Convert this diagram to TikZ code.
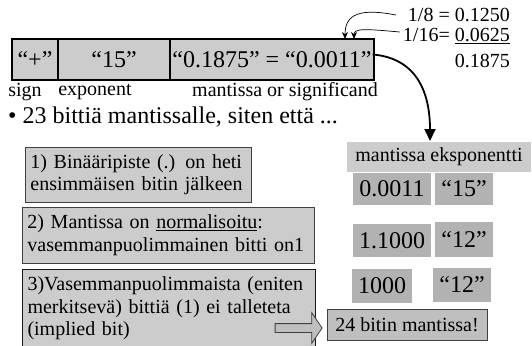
\documentclass[tikz,border=0pt]{standalone}
\usepackage{fontspec}
\setmainfont{Liberation Serif}
\usetikzlibrary{arrows.meta,calc,shapes.arrows}

\begin{document}
\begin{tikzpicture}[x=1pt,y=1pt,yscale=-1,xscale=1,
  field/.style={draw=black,line width=1.2pt,fill=black!20,minimum height=41,inner sep=0,font=\fontsize{24}{28}\selectfont},
  numbox/.style={draw=black!75,line width=0.8pt,fill=black!20,anchor=north west,align=left,inner xsep=5,font=\fontsize{20}{22.5}\selectfont},
  valbox/.style={fill=black!30,inner sep=0,font=\fontsize{24}{28}\selectfont},
  lbl/.style={inner sep=0,font=\fontsize{20}{24}\selectfont},
  hollowarrow/.style={single arrow,draw=black!75,line width=0.8pt,fill=black!25,inner sep=4,minimum height=47,single arrow head extend=11,single arrow tip angle=112}]
\useasboundingbox (0,0) rectangle (532,345);

%Fields of the number
\node[field,minimum width=46] (sign) at (35,59.5) {“+”};
\node[field,minimum width=112] (expo) at (114,59.5) {“15”};
\node[field,minimum width=204] (mant) at (272,59.5) {“0.1875” = “0.0011”};
\node[lbl] (signlbl) at (25,92) {sign};
\node[lbl] (expolbl) at (95,92) {exponent};
\node[lbl] (mantlbl) at (285,92) {mantissa or significand};

%Sum of the fractions
\node[lbl,anchor=east] (frac1) at (510,15) {1/8 = 0.1250};
\node[lbl,anchor=east] (frac2) at (510,36) {1/16= \underline{0.0625}};
\node[lbl,anchor=east] (sum) at (510,61) {0.1875};
\coordinate (bit3) at (345,39);
\coordinate (bit4) at (354,39);
\draw[line width=0.7pt,-{Stealth[length=7,width=6]}] ($(frac1.west)+(-12,0)$) .. controls (360,8) and (345,14) .. (bit3);
\draw[line width=0.7pt,-{Stealth[length=7,width=6]}] ($(frac2.west)+(-3,-4)$) .. controls (366,29) and (354,28) .. (bit4);

\node[lbl,anchor=west,font=\fontsize{24}{28}\selectfont] (bullet) at (8,117) {• 23 bittiä mantissalle, siten että ...};

%Steps
\node[numbox,text width=216,minimum height=55] (step1) at (25,147) {1) Binääripiste (.) on heti\\ensimmäisen bitin jälkeen};
\node[numbox,text width=282,minimum height=56] (step2) at (22,207) {2) Mantissa on \underline{normalisoitu}:\\vasemmanpuolimmainen bitti on1};
\node[numbox,draw=black!90,line width=1pt,text width=283,minimum height=78] (step3) at (22,269) {3)Vasemmanpuolimmaista (eniten\\merkitsevä) bittiä (1) ei talleteta\\(implied bit)};

%Mantissa and exponent columns
\node[lbl,fill=black!20,minimum width=184,minimum height=30] (hdr) at (439,157) {mantissa eksponentti};
\node[valbox,minimum width=78,minimum height=32] (m1) at (392,189) {0.0011};
\node[valbox,minimum width=58,minimum height=32] (e1) at (464,189) {“15”};
\node[valbox,minimum width=78,minimum height=33] (m2) at (392,240.5) {1.1000};
\node[valbox,minimum width=58,minimum height=35] (e2) at (464,239.5) {“12”};
\node[valbox,minimum width=60,minimum height=34] (m3) at (382,286) {1000};
\node[valbox,minimum width=58,minimum height=34] (e3) at (462,285) {“12”};
\node[lbl,draw=black!75,line width=0.8pt,fill=black!25,minimum width=160,minimum height=31] (bits24) at (407,324.5) {24 bitin mantissa!};

%Arrows
\coordinate (hdrtip) at (430,141);
\draw[line width=1.8pt,-{Triangle[length=12,width=11]}] ($(mant.east)+(-2,-5)$) .. controls (415,58) and (430,90) .. (hdrtip);
\node[hollowarrow,anchor=tip] (impl) at ($(bits24.west)+(-4,3.5)$) {};

\end{tikzpicture}
\end{document}
